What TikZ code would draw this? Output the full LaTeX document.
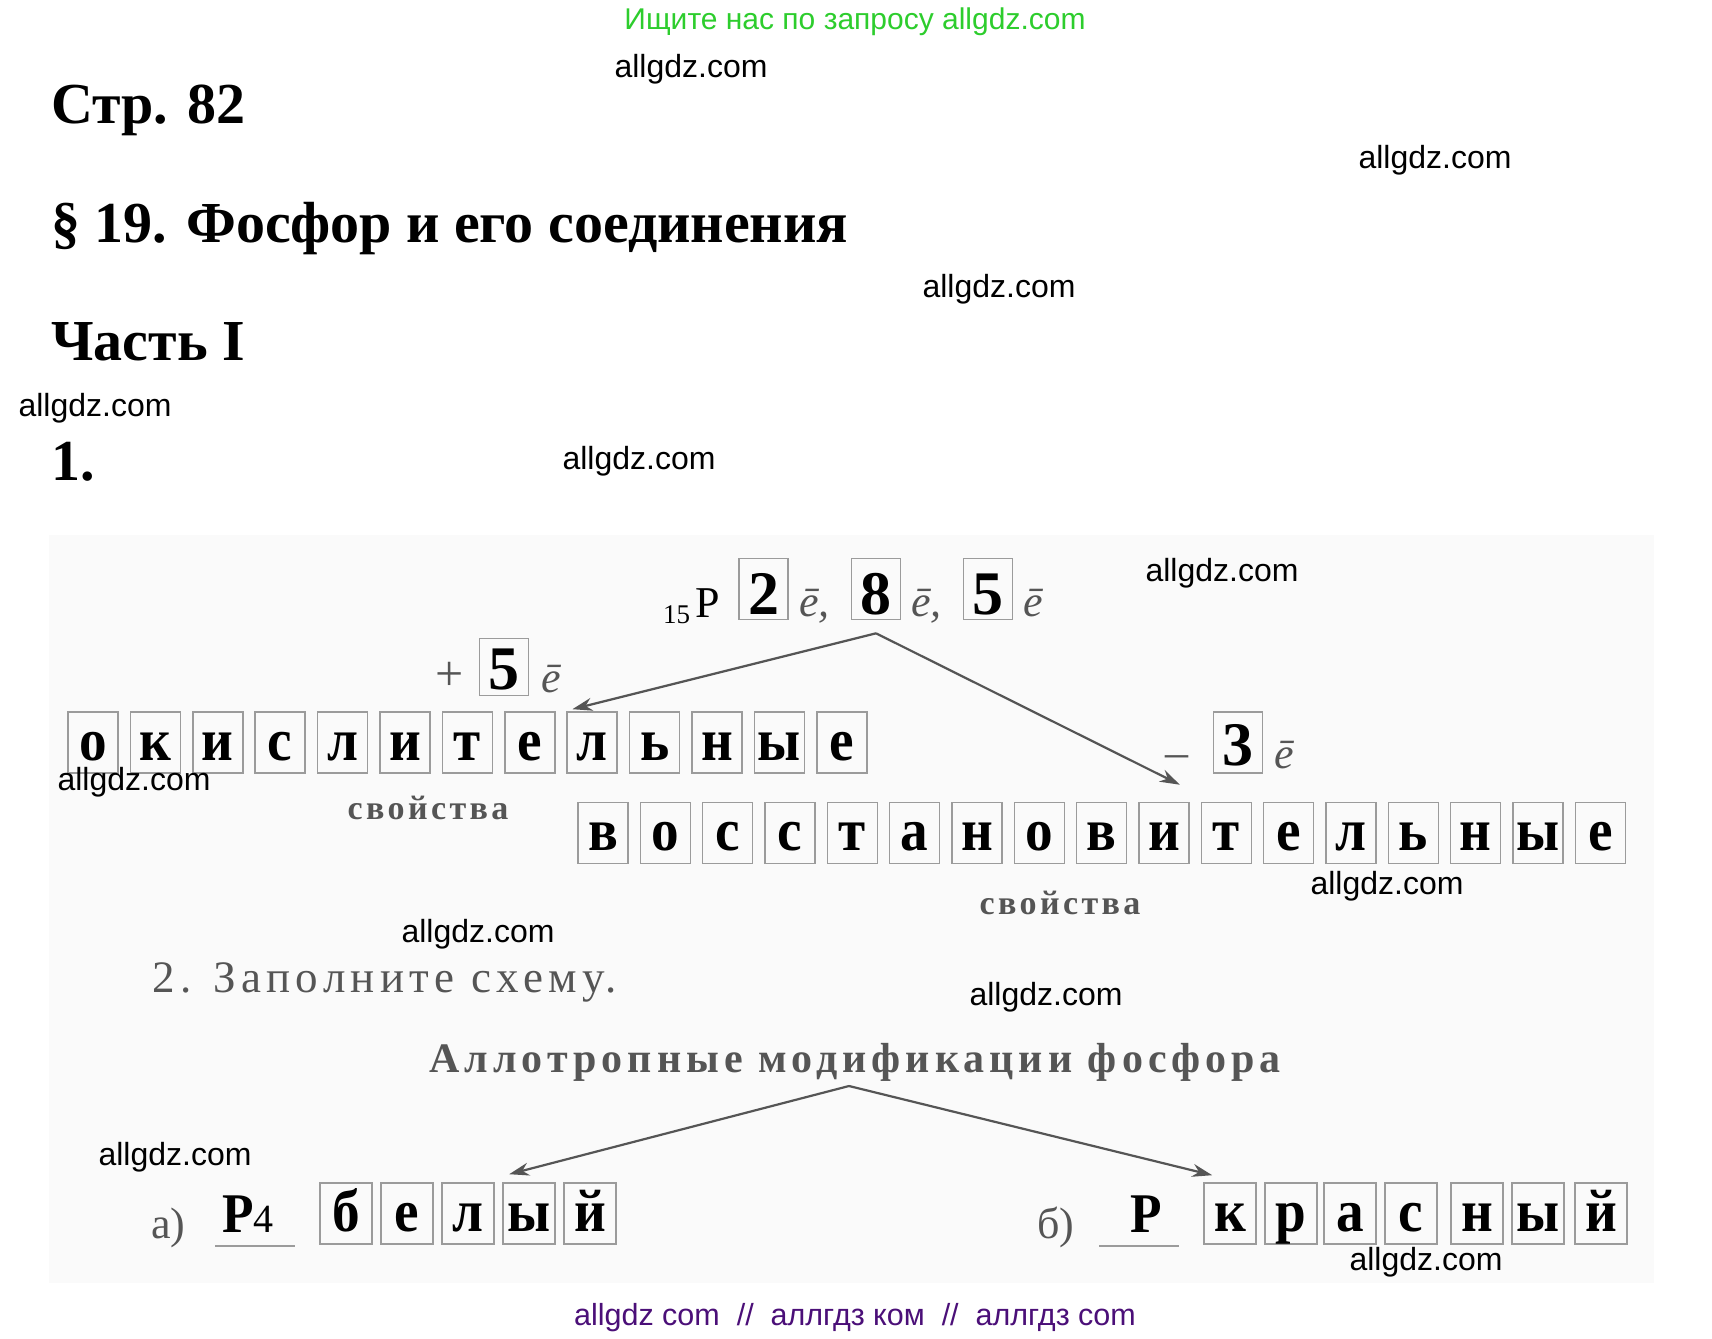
\documentclass[tikz,border=0pt]{standalone}
\usepackage{fontspec}
\setmainfont{Liberation Serif}
\newfontfamily\wmfont{Liberation Sans}
\newfontfamily\boxfont[FakeStretch=0.92]{Liberation Serif}
\newfontfamily\lspfont[LetterSpace=12]{Liberation Serif}
\newfontfamily\lspsfont[LetterSpace=10]{Liberation Serif}
\usetikzlibrary{arrows.meta}
\definecolor{wmgreen}{RGB}{45,205,45}
\definecolor{wmpurple}{RGB}{75,15,120}
\definecolor{boxgray}{RGB}{155,155,155}
\definecolor{txtgray}{RGB}{85,85,85}
\definecolor{scanbg}{RGB}{250,250,250}
\begin{document}
\begin{tikzpicture}[x=1pt,y=-1pt,
  wm/.style={font=\wmfont\fontsize{32}{36}\selectfont, inner sep=0pt, text=black},
  head/.style={font=\bfseries\fontsize{58}{64}\selectfont, inner sep=0pt, anchor=base west},
  lbox/.style={draw=boxgray, line width=1.6pt, minimum width=50pt, minimum height=61pt, inner sep=0pt, text height=48pt, text depth=13pt, font=\boxfont\bfseries\fontsize{60}{64}\selectfont},
  sbox/.style={lbox, minimum width=52pt},
  dbox/.style={draw=boxgray, line width=1.6pt, minimum width=49pt, minimum height=61pt, inner sep=0pt, text height=56pt, text depth=5pt, font=\bfseries\fontsize{62}{66}\selectfont},
  ebar/.style={font=\itshape\fontsize{44}{48}\selectfont, text=txtgray, inner sep=0pt, anchor=base west},
  gtext/.style={text=txtgray, inner sep=0pt},
  arr/.style={draw=txtgray, line width=2.2pt, -{Stealth[length=20pt,width=13pt]}},
]
\fill[white] (0,0) rectangle (1712,1338);
\useasboundingbox (0,0) rectangle (1712,1338);
\fill[scanbg] (49,535) rectangle (1654,1283);

% header
\node[wm, text=wmgreen, font=\wmfont\fontsize{30}{34}\selectfont, anchor=base] (top) at (855,30) {Ищите нас по запросу allgdz.com};
\node[head] (str) at (51,123) {Стр. 82};
\node[head] (par) at (51,242) {§ 19. Фосфор и его соединения};
\node[head] (part) at (51,360) {Часть I};
\node[head] (n1) at (51,480) {1.};

% electron configuration
\node[anchor=base west, inner sep=0pt, font=\fontsize{27}{30}\selectfont] (zz) at (663,623) {15};
\node[anchor=base west, inner sep=0pt, font=\fontsize{44}{48}\selectfont] (pp) at (695,617) {P};
\node[dbox] (b2) at (763.5,589) {2};
\node[ebar] (e1) at (799,616) {ē,};
\node[dbox] (b8) at (876,589) {8};
\node[ebar] (e2) at (911,616) {ē,};
\node[dbox] (b5) at (988,589) {5};
\node[ebar] (e3) at (1023,616) {ē};

% +5e
\node[gtext, anchor=base, font=\fontsize{50}{54}\selectfont] (plus) at (450,690) {+};
\node[dbox, minimum height=57pt, text height=51pt, text depth=6pt] (p5) at (504,667) {5};
\node[ebar] (e4) at (541,692) {ē};

% -3e
\node[gtext, anchor=base, font=\fontsize{46}{50}\selectfont] (minus) at (1177,767) {–};
\node[dbox, text height=53pt, text depth=8pt] (m3) at (1238,742.5) {3};
\node[ebar] (e5) at (1274,768) {ē};

% row 1
\foreach \l [count=\i from 0] in {о,к,и,с,л,и,т,е,л,ь,н,ы,е}
  \node[lbox] (r1-\i) at ({93+62.4*\i},742.5) {\l};
\node[gtext, font=\lspsfont\bfseries\fontsize{34}{38}\selectfont] (sv1) at (428,808) {свойства};

% row 2
\foreach \l [count=\i from 0] in {в,о,с,с,т,а,н,о,в,и,т,е,л,ь,н,ы,е}
  \node[lbox] (r2-\i) at ({603+62.33*\i},833) {\l};
\node[gtext, font=\lspsfont\bfseries\fontsize{34}{38}\selectfont] (sv2) at (1060,903) {свойства};

\coordinate (fork1) at ([yshift=-13pt]b8.south);
\draw[arr] (fork1) -- ([xshift=6pt,yshift=2pt]r1-8.north west);
\draw[arr] (fork1) -- ([xshift=-10pt,yshift=17pt]r2-9.north east);

% task 2
\node[gtext, anchor=base west, font=\lspfont\fontsize{45}{49}\selectfont] (task2) at (152,992) {2. Заполните схему.};
\node[gtext, anchor=base, font=\lspfont\bfseries\fontsize{42}{46}\selectfont] (t2) at (855,1072) {Аллотропные модификации фосфора};

\node[gtext, anchor=base west, font=\fontsize{44}{48}\selectfont] (la) at (151,1238) {а)};
\node[anchor=base west, inner sep=0pt] (p4) at (222,1232) {{\boxfont\bfseries\fontsize{56}{60}\selectfont P}{\fontsize{40}{44}\selectfont 4}};
\draw[boxgray, line width=1.6pt] (215,1246) -- (295,1246);
\foreach \l [count=\i from 0] in {б,е,л,ы,й}
  \node[sbox] (w-\i) at ({346+61*\i},1213.5) {\l};

\node[gtext, anchor=base west, font=\fontsize{44}{48}\selectfont] (lb) at (1037,1238) {б)};
\node[anchor=base west, inner sep=0pt, font=\boxfont\bfseries\fontsize{56}{60}\selectfont] (pr) at (1130,1232) {P};
\draw[boxgray, line width=1.6pt] (1099,1246) -- (1179,1246);
\foreach \l/\xx [count=\i from 0] in {к/1230,р/1291,а/1350,с/1411,н/1477,ы/1538,й/1601}
  \node[sbox] (k-\i) at (\xx,1213.5) {\l};

\coordinate (fork2) at (849,1086);
\draw[arr] (fork2) -- ([xshift=7pt,yshift=8pt]w-3.north west);
\draw[arr] (fork2) -- ([xshift=9pt,yshift=7pt]k-0.north west);

% watermarks
\node[wm] (wm1) at (691,69) {allgdz.com};
\node[wm] (wm2) at (1435,160) {allgdz.com};
\node[wm] (wm3) at (999,289) {allgdz.com};
\node[wm] (wm4) at (95,408) {allgdz.com};
\node[wm] (wm5) at (639,461) {allgdz.com};
\node[wm] (wm6) at (1222,573) {allgdz.com};
\node[wm] (wm7) at (134,782) {allgdz.com};
\node[wm] (wm8) at (1387,886) {allgdz.com};
\node[wm] (wm9) at (478,934) {allgdz.com};
\node[wm] (wm10) at (1046,997) {allgdz.com};
\node[wm] (wm11) at (175,1157) {allgdz.com};
\node[wm] (wm12) at (1426,1262) {allgdz.com};
\node[wm, text=wmpurple, font=\wmfont\fontsize{30.5}{34}\selectfont, anchor=base] (bot) at (855,1325) {allgdz com\ \ //\ \ аллгдз ком\ \ //\ \ аллгдз com};
\end{tikzpicture}
\end{document}
